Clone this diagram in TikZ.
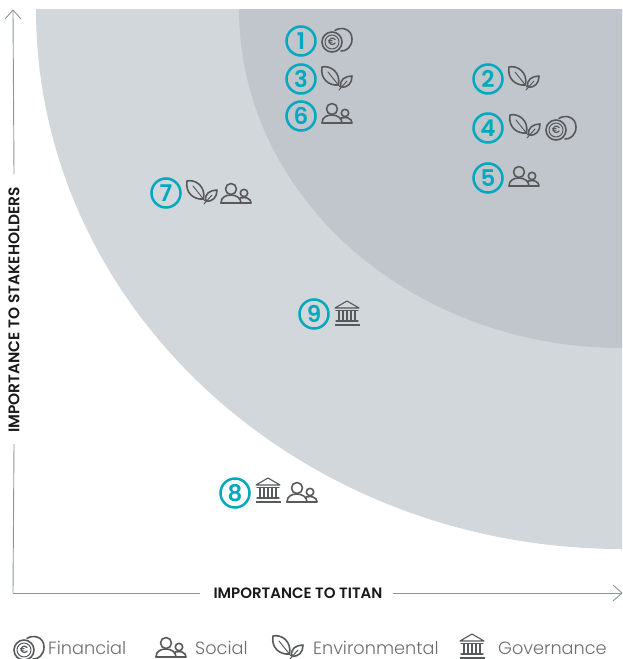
\documentclass[tikz,border=0pt]{standalone}
\usepackage{fontspec}
\setmainfont{Poppins}
\newfontfamily\lightfont{Poppins Light}
\newfontfamily\semifont{Poppins SemiBold}
\definecolor{outerzone}{HTML}{D1D7DB}
\definecolor{innerzone}{HTML}{C1C6CD}
\definecolor{tealmark}{HTML}{00A9BD}
\definecolor{icongrey}{HTML}{58595B}
\definecolor{axisgrey}{HTML}{8C959B}
\definecolor{legendgrey}{HTML}{6D6E71}
\tikzset{
  x=1pt,y=-1pt,
  numbadge/.style={circle,draw=tealmark,line width=2.5pt,minimum size=29pt,inner sep=0pt,text=tealmark,font=\semifont\fontsize{23}{23}\selectfont},
  axislabel/.style={inner sep=0pt,text=black!90,font=\semifont\fontsize{15}{15}\selectfont},
  axislabelv/.style={inner sep=0pt,text=black!90,font=\semifont\fontsize{15.4}{15.4}\selectfont},
  legendlabel/.style={anchor=base west,inner sep=0pt,text=legendgrey,font=\lightfont\fontsize{17.7}{18}\selectfont},
  axisline/.style={draw=axisgrey,line width=0.9pt},
  iconline/.style={draw=icongrey,line width=1.6pt,line join=round,line cap=round},
  coinicon/.pic={
    \draw[iconline] (-2,-9.5) .. controls (3,-13.5) and (15,-12) .. (15,-1) .. controls (15,7) and (9,11.5) .. (4,11);
    \draw[iconline] (-5,2) circle[radius=10];
    \draw[iconline,line width=1pt] (-5,2) circle[radius=7];
    \node[inner sep=0pt,text=icongrey,font=\semifont\fontsize{10.5}{10.5}\selectfont] at (-5,2) {€};
  },
  leaficon/.pic={
    \draw[iconline] (-15,-12) .. controls (-7,-14) and (4,-7) .. (1.5,6) .. controls (-8,7) and (-17,0) .. cycle;
    \draw[iconline,line width=1pt] (-9,-7) -- (3,8);
    \draw[iconline] (4,8) .. controls (2,1) and (8,-3) .. (15,-3) .. controls (15,4) and (11,9) .. cycle;
    \draw[iconline,line width=1pt] (2,11) -- (10,2);
  },
  peopleicon/.pic={
    \draw[iconline] (-5,-5) circle[radius=5.5];
    \draw[iconline] (8,-1) circle[radius=3.7];
    \draw[iconline] (-15,9) .. controls (-15,3) and (-10,1) .. (-5,1) .. controls (0,1) and (5,4) .. (5,9);
    \draw[iconline] (4,4) .. controls (6,3.5) and (10,3.5) .. (11,4) .. controls (14,5) and (15,7) .. (15,9) -- (-15,9);
  },
  bankicon/.pic={
    \draw[iconline,line width=1.1pt] (-12,-6) -- (0,-13) -- (12,-6) -- cycle;
    \draw[iconline,line width=1.4pt] (-11,-3.5) -- (11,-3.5);
    \foreach \cx in {-8,-4,0,4,8}{\draw[iconline,line width=1.3pt,line cap=butt] (\cx,-3) -- (\cx,6);}
    \draw[iconline,line width=1.2pt] (-11,7) -- (11,7);
    \draw[iconline,line width=2.2pt,line cap=butt] (-12.5,11) -- (12.5,11);
  }
}
\begin{document}
\begin{tikzpicture}
\useasboundingbox (0,0) rectangle (622,659);
\begin{scope}
  \clip (0,9) rectangle (622,659);
  \fill[outerzone] (622,9) ellipse[x radius=586pt,y radius=540pt];
  \fill[innerzone] (622,9) ellipse[x radius=383pt,y radius=339pt];
\end{scope}
% axes
\coordinate (origin) at (13,593);
\coordinate (ytip) at (13,10);
\coordinate (xtip) at (622,593);
\node[axislabelv,rotate=90] (ylabel) at (14,310) {IMPORTANCE TO STAKEHOLDERS};
\node[axislabel] (xlabel) at (298,593) {IMPORTANCE TO TITAN};
\draw[axisline] (origin) -- ([yshift=-11pt]ylabel.west);
\draw[axisline] ([yshift=13pt]ylabel.east) -- (ytip);
\draw[axisline] (origin) -- ([xshift=-13pt]xlabel.west);
\draw[axisline] ([xshift=10pt]xlabel.east) -- (xtip);
\draw[axisline,line join=miter] (5,19) -- (ytip) -- (21,19);
\draw[axisline,line join=miter] (613,585) -- (xtip) -- (613,601);
% numbered items
\node[numbadge] (n1) at (301,41) {1};
\node[numbadge] (n3) at (301,79) {3};
\node[numbadge] (n6) at (301,116) {6};
\node[numbadge] (n2) at (488,79) {2};
\node[numbadge] (n4) at (488,128) {4};
\node[numbadge] (n5) at (488,178) {5};
\node[numbadge] (n7) at (166,193) {7};
\node[numbadge] (n9) at (314,314) {9};
\node[numbadge] (n8) at (235,493) {8};
% icons
\pic at (337,40) {coinicon};
\pic at (337,79) {leaficon};
\pic at (337,114) {peopleicon};
\pic at (524,79) {leaficon};
\pic at (525,127) {leaficon};
\pic at (561,128) {coinicon};
\pic at (524,177) {peopleicon};
\pic at (202,193) {leaficon};
\pic at (236,194) {peopleicon};
\pic at (347,314) {bankicon};
\pic at (268,491) {bankicon};
\pic at (302,493) {peopleicon};
% legend
\pic at (29,648) {coinicon};
\node[legendlabel] (lfin) at (48,654) {Financial};
\pic at (171,648) {peopleicon};
\node[legendlabel] (lsoc) at (195,654) {Social};
\pic at (288,648) {leaficon};
\node[legendlabel] (lenv) at (313,654) {Environmental};
\pic at (472,647) {bankicon};
\node[legendlabel] (lgov) at (498,654) {Governance};
\end{tikzpicture}
\end{document}
